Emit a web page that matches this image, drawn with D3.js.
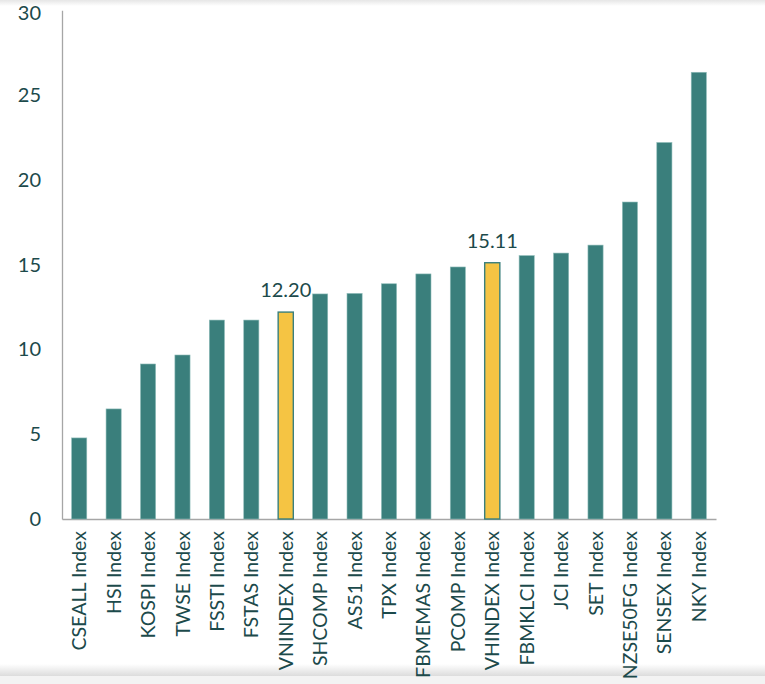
<!DOCTYPE html>
<html lang="en">
<head>
    <meta charset="UTF-8">
    <script src="https://d3js.org/d3.v7.min.js"></script>
    <title>P/E</title>
    <style>
        body { margin: 0; background: #fff; }
    </style>
</head>
<body>
    <div id="my_chart"></div>
    <script>
        var categories = ["CSEALL Index", "HSI Index", "KOSPI Index", "TWSE Index", "FSSTI Index",
            "FSTAS Index", "VNINDEX Index", "SHCOMP Index", "AS51 Index", "TPX Index",
            "FBMEMAS Index", "PCOMP Index", "VHINDEX Index", "FBMKLCI Index", "JCI Index",
            "SET Index", "NZSE50FG Index", "SENSEX Index", "NKY Index"];
        var values = [4.78, 6.49, 9.14, 9.67, 11.73, 11.73, 12.20, 13.27, 13.30, 13.87,
            14.45, 14.86, 15.11, 15.53, 15.68, 16.15, 18.69, 22.20, 26.34];
        var highlighted = ["VNINDEX Index", "VHINDEX Index"];
        var yTicks = [0, 5, 10, 15, 20, 25, 30];

        var W = 765, H = 684;
        var x0 = 62, x1 = 716, yBase = 519, yTop = 10.2;
        var font = "Lato, 'Open Sans', sans-serif";

        var svg = d3.select("#my_chart")
            .append("svg")
            .attr("width", W)
            .attr("height", H);

        // faint edge shading
        var defs = svg.append("defs");
        var gt = defs.append("linearGradient").attr("id", "topShade").attr("x1", 0).attr("x2", 0).attr("y1", 0).attr("y2", 1);
        gt.append("stop").attr("offset", 0).attr("stop-color", "#e6e6e6");
        gt.append("stop").attr("offset", 1).attr("stop-color", "#ffffff");
        var gb = defs.append("linearGradient").attr("id", "botShade").attr("x1", 0).attr("x2", 0).attr("y1", 0).attr("y2", 1);
        gb.append("stop").attr("offset", 0).attr("stop-color", "#ffffff");
        gb.append("stop").attr("offset", 1).attr("stop-color", "#dcdcdc");
        svg.append("rect").attr("x", 0).attr("y", 0).attr("width", W).attr("height", 6).attr("fill", "url(#topShade)");
        svg.append("rect").attr("x", 0).attr("y", 664).attr("width", W).attr("height", 12).attr("fill", "url(#botShade)");
        svg.append("rect").attr("x", 0).attr("y", 676).attr("width", W).attr("height", 8).attr("fill", "#f3f3f3");

        var x = d3.scaleBand()
            .domain(categories)
            .range([x0, x1])
            .paddingInner(0.56)
            .paddingOuter(0.28);

        var y = d3.scaleLinear()
            .domain([0, 30])
            .range([yBase, yTop]);

        // Y axis
        var yAxis = svg.append("g")
            .attr("transform", "translate(" + x0 + ",0)")
            .call(d3.axisLeft(y).tickValues(yTicks).tickSize(0).tickPadding(21));
        yAxis.select(".domain").attr("stroke", "#a6a6a6").attr("stroke-width", 1.3);
        yAxis.selectAll("text")
            .attr("fill", "#1c4a4b")
            .style("font-family", font)
            .style("font-size", "20px");
        yAxis.selectAll(".tick").filter(function (d) { return d === 30; })
            .select("text").attr("dy", "0.45em");

        // X axis
        var xAxis = svg.append("g")
            .attr("transform", "translate(0," + yBase + ")")
            .call(d3.axisBottom(x).tickSize(0).tickPadding(0));
        xAxis.select(".domain").attr("stroke", "#a6a6a6").attr("stroke-width", 1.3);
        xAxis.selectAll("text")
            .attr("fill", "#1c4a4b")
            .style("font-family", font)
            .style("font-size", "19.5px")
            .attr("text-anchor", "end")
            .attr("dy", "0.36em")
            .attr("transform", "translate(0,12) rotate(-90)")
            .attr("x", 0)
            .attr("y", 0);

        // Bars
        svg.selectAll("rect.bar")
            .data(categories)
            .enter()
            .append("rect")
            .attr("class", "bar")
            .attr("x", function (d) { return x(d); })
            .attr("y", function (d, i) { return y(values[i]); })
            .attr("width", x.bandwidth())
            .attr("height", function (d, i) { return yBase - y(values[i]); })
            .attr("fill", function (d) { return highlighted.indexOf(d) >= 0 ? "#f5c443" : "#3a7f7c"; })
            .attr("stroke", function (d) { return highlighted.indexOf(d) >= 0 ? "#3a7f7c" : "#8fbcb9"; })
            .attr("stroke-width", function (d) { return highlighted.indexOf(d) >= 0 ? 1.4 : 0.6; });

        // Labels on highlighted bars
        svg.selectAll("text.val")
            .data(categories.filter(function (d) { return highlighted.indexOf(d) >= 0; }))
            .enter()
            .append("text")
            .attr("class", "val")
            .attr("x", function (d) { return x(d) + x.bandwidth() / 2; })
            .attr("y", function (d) { return y(values[categories.indexOf(d)]) - 15; })
            .attr("text-anchor", "middle")
            .attr("fill", "#1c4a4b")
            .style("font-family", font)
            .style("font-size", "20px")
            .text(function (d) { return values[categories.indexOf(d)].toFixed(2); });
    </script>
</body>
</html>
